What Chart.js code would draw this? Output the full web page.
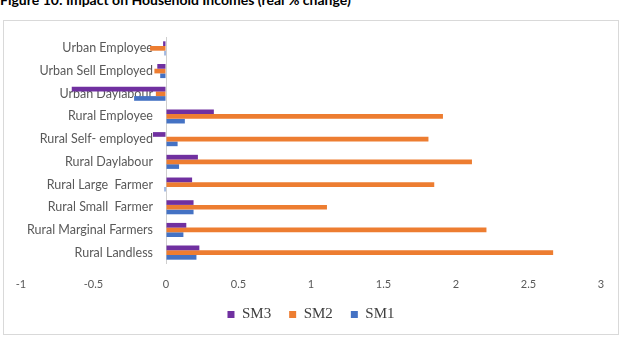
<!DOCTYPE html>
<html>
<head>
<meta charset="utf-8">
<script src="https://cdn.jsdelivr.net/npm/chart.js@4.4.0/dist/chart.umd.min.js"></script>
<style>
body{margin:0;width:627px;height:341px;background:#fff;overflow:hidden;position:relative;font-family:Lato,sans-serif}
#title{position:absolute;left:0;top:-9px;font-weight:bold;font-size:14px;color:#000;white-space:nowrap}
#frame{position:absolute;left:3px;top:20px;width:616px;height:315px;border:1px solid #d9d9d9;box-sizing:border-box}
#wrap{position:absolute;left:0;top:0;width:627px;height:341px}
</style>
</head>
<body>
<div id="title">Figure 10: Impact on Household Incomes (real % change)</div>
<div id="frame"></div>
<div id="wrap"><canvas id="chart"></canvas></div>
<script>
// Data (top to bottom as in the figure)
const categories = ['Urban Employee', 'Urban Sell Employed', 'Urban Daylabour', 'Rural Employee', 'Rural Self- employed',
    'Rural Daylabour', 'Rural Large  Farmer', 'Rural Small  Farmer', 'Rural Marginal Farmers', 'Rural Landless'];
const sm3 = [-0.02, -0.06, -0.65, 0.33, -0.09, 0.22, 0.18, 0.19, 0.14, 0.23];
const sm2 = [-0.11, -0.08, -0.07, 1.91, 1.81, 2.11, 1.85, 1.11, 2.21, 2.67];
const sm1 = [-0.01, -0.04, -0.22, 0.13, 0.08, 0.09, -0.01, 0.19, 0.12, 0.21];
const xMin = -1, xMax = 3, xStep = 0.5;

const ctx = document.getElementById('chart').getContext('2d');

new Chart(ctx, {
    type: 'bar',
    data: {
        labels: categories,
        datasets: [
            {label: 'SM3', data: sm3, backgroundColor: '#7030A0'},
            {label: 'SM2', data: sm2, backgroundColor: '#ED7D31'},
            {label: 'SM1', data: sm1, backgroundColor: '#4472C4'}
        ]
    },
    options: {
        indexAxis: 'y',
        responsive: true,
        maintainAspectRatio: false,
        animation: false,
        layout: {padding: {left: 21, right: 26, top: 37, bottom: 20}},
        datasets: {bar: {categoryPercentage: 0.62, barPercentage: 1}},
        scales: {
            x: {
                min: xMin, max: xMax,
                // only the zero line is shown, as the vertical axis
                grid: {drawTicks: false, color: c => c.tick && c.tick.value === 0 ? '#cfcfcf' : 'transparent'},
                border: {display: false},
                ticks: {stepSize: xStep, padding: 14, color: '#595959', font: {family: 'Lato', size: 11},
                    callback: v => String(v)},
                afterFit: s => { s.height = 25; }
            },
            y: {
                position: {x: -0.09},   // labels sit just left of the zero line
                grid: {display: false, drawTicks: false},
                border: {display: false},
                ticks: {color: '#595959', font: {family: 'Lato', size: 12.5}},
                afterFit: s => { s.width = 0; }
            }
        },
        plugins: {
            legend: {
                position: 'bottom',
                maxHeight: 32,
                labels: {boxWidth: 7, boxHeight: 7, padding: 18, color: '#404040', font: {family: 'Liberation Serif', size: 15}}
            },
            tooltip: {enabled: false}
        }
    }
});
</script>
</body>
</html>
